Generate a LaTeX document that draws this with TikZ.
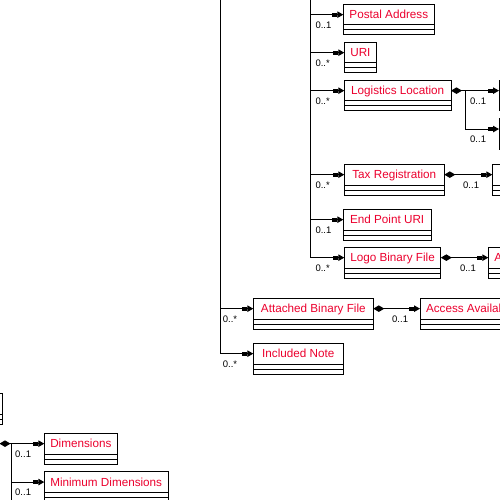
\documentclass[tikz,border=0pt]{standalone}
\usepackage{fontspec}
\setmainfont{Liberation Sans}
\usetikzlibrary{arrows.meta,calc}
\definecolor{elemred}{RGB}{235,0,45}
\tikzset{
  ubox/.style={draw, line width=1pt, rectangle, minimum height=20.7pt, inner xsep=6pt, inner ysep=2pt,
    outer sep=0pt, text=elemred, font=\fontsize{11.7}{14}\selectfont, text height=8.4pt, text depth=0pt},
  uline/.style={line width=1pt},
  conn/.style={line width=1pt, -{Rectangle[length=5pt,width=4pt]Triangle[length=6pt,width=6.5pt]}},
  dconn/.style={line width=1pt, {Diamond[length=11pt,width=6.5pt]}-{Rectangle[length=5pt,width=4pt]Triangle[length=6pt,width=6.5pt]}},
  mult/.style={font=\fontsize{9.5}{11}\selectfont, inner sep=0pt, anchor=west, text height=6.8pt, text depth=0pt},
}
% name, anchor, x, y, min width, text
\newcommand\umlbox[6]{%
  \node[ubox, anchor=#2, minimum width=#5pt] (#1) at (#3,#4) {#6};
  \draw[uline] (#1.south west) -- ++(0,10) -| (#1.south east);
  \draw[uline] ([yshift=-5pt]#1.south west) -- ([yshift=-5pt]#1.south east);
}
\begin{document}
\begin{tikzpicture}[x=1pt,y=-1pt]
\useasboundingbox (0,0) rectangle (500,500);
\clip (0,0) rectangle (500,500);

% boxes
\umlbox{pa}{north west}{343.3}{4.3}{91}{Postal Address}
\umlbox{uri}{north west}{344.3}{42.3}{30.7}{URI}
\umlbox{ll}{north west}{344.3}{80.3}{106.7}{Logistics Location}
\umlbox{llca}{north west}{499}{80.3}{100}{}
\umlbox{llcb}{north west}{499}{118.7}{100}{}
\umlbox{tr}{north west}{344.3}{164.3}{100}{Tax Registration}
\umlbox{trc}{north west}{492.3}{164.3}{60}{ID}
\umlbox{ep}{north west}{343.3}{209.3}{87.7}{End Point URI}
\umlbox{lb}{north west}{344.3}{247.3}{95.7}{Logo Binary File}
\node[ubox, anchor=north west] (lbc) at (488.3,247.3) {Access Availability Code};
\draw[uline] (lbc.south west) -- ++(0,10) -| (lbc.south east);
\draw[uline] ([yshift=-5pt]lbc.south west) -- ([yshift=-5pt]lbc.south east);
\umlbox{ab}{north west}{253.3}{298.3}{120}{Attached Binary File}
\node[ubox, anchor=north west] (abc) at (420,298.3) {Access Availability Code};
\draw[uline] (abc.south west) -- ++(0,10) -| (abc.south east);
\draw[uline] ([yshift=-5pt]abc.south west) -- ([yshift=-5pt]abc.south east);
\umlbox{inn}{north west}{253.3}{343.3}{90}{Included Note}
\umlbox{bl}{north east}{2.7}{393.3}{100}{}
\umlbox{dp}{north east}{-0.5}{433.3}{100}{}
\umlbox{dim}{north west}{44.3}{433.3}{72.4}{Dimensions}
\umlbox{mdim}{north west}{44.3}{471.7}{123}{Minimum Dimensions}

% trunks
\coordinate (t1) at (220,-5);
\coordinate (t2) at (310.3,-5);
\coordinate (j1) at (465,0);
\coordinate (j3) at (11.7,520);

\draw[conn] (t2) |- (lb.west);
\draw[conn] (pa.west -| t2) -- (pa.west);
\draw[conn] (uri.west -| t2) -- (uri.west);
\draw[conn] (ll.west -| t2) -- (ll.west);
\draw[conn] (tr.west -| t2) -- (tr.west);
\draw[conn] (ep.west -| t2) -- (ep.west);

\draw[conn] (t1) |- (inn.west);
\draw[conn] (ab.west -| t1) -- (ab.west);

\draw[dconn] (ll.east) -- (llca.west);
\draw[conn] (ll.east -| j1) |- (llcb.west);
\draw[dconn] (tr.east) -- (trc.west);
\draw[dconn] (lb.east) -- (lbc.west);
\draw[dconn] (ab.east) -- (abc.west);

\draw[dconn] (dp.east) -- (dim.west);
\draw[uline] (dim.west -| j3) -- (j3);
\draw[conn] (mdim.west -| j3) -- (mdim.west);

% multiplicities
\node[mult] at ($(pa.west -| t2)+(5,10)$) {0..1};
\node[mult] at ($(uri.west -| t2)+(5,10)$) {0..*};
\node[mult] at ($(ll.west -| t2)+(5,10)$) {0..*};
\node[mult] at ($(tr.west -| t2)+(5,10)$) {0..*};
\node[mult] at ($(ep.west -| t2)+(5,10)$) {0..1};
\node[mult] at ($(lb.west -| t2)+(5,10)$) {0..*};
\node[mult] at ($(ab.west -| t1)+(2.7,10)$) {0..*};
\node[mult] at ($(inn.west -| t1)+(2.7,10)$) {0..*};
\node[mult] at ($(ll.east)+(19,10)$) {0..1};
\node[mult] at ($(llcb.west -| j1)+(5,10)$) {0..1};
\node[mult] at ($(tr.east)+(18.7,10)$) {0..1};
\node[mult] at ($(lb.east)+(19,10)$) {0..1};
\node[mult] at ($(ab.east)+(18.7,10)$) {0..1};
\node[mult] at ($(dim.west -| j3)+(3.3,10)$) {0..1};
\node[mult] at ($(mdim.west -| j3)+(3.3,10)$) {0..1};
\end{tikzpicture}
\end{document}
